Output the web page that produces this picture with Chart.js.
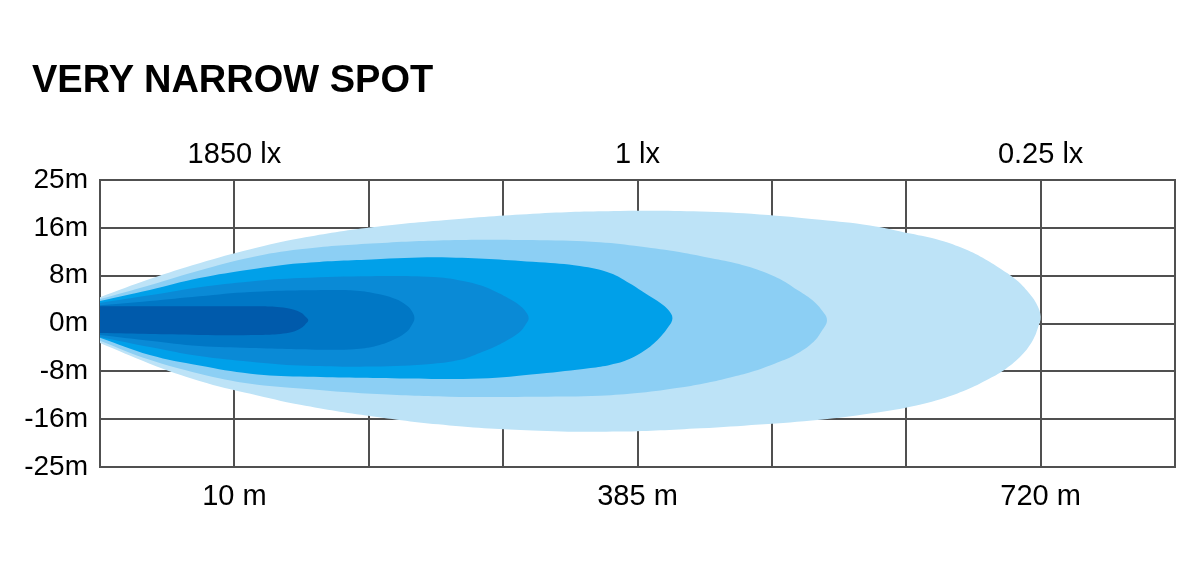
<!DOCTYPE html>
<html>
<head>
<meta charset="utf-8">
<script src="https://cdn.jsdelivr.net/npm/chart.js@4.4.1/dist/chart.umd.min.js"></script>
<style>
  html, body { margin:0; padding:0; background:#fff; }
  #wrap { position:relative; width:1200px; height:587px; }
  #title { position:absolute; left:32px; top:60px; font-family:"Liberation Sans", Arial, sans-serif; font-weight:bold; font-size:38px; line-height:38px; color:#000; }
  canvas { position:absolute; left:0; top:0; }
</style>
</head>
<body>
<div id="wrap">
  <canvas id="myChart" width="1200" height="587"></canvas>
  <div id="title">VERY NARROW SPOT</div>
</div>
<script>
// grid units: x 0..8 (one per column), y -3..3 (one per row)
var yLabels = ['-25m','-16m','-8m','0m','8m','16m','25m']
var bottomLabels = ['','10 m','','','385 m','','','720 m','']
var topLabels = ['','1850 lx','','','1 lx','','','0.25 lx','']

// beam lobes, outer (0.25 lx) to inner, traced round: top edge left->right, bottom edge back
var lobe1X = [0,0.37,0.74,1.12,1.49,2.02,2.60,3.27,3.87,4.47,4.91,5.36,5.73,6.03,6.25,6.44,6.59,6.71,6.82,6.91,6.97,7.00,6.98,6.94,6.86,6.74,6.62,6.47,6.29,6.03,5.73,5.36,4.91,4.47,3.87,3.27,2.60,2.02,1.49,1.12,0.74,0.37,0]
var lobe1Y = [0.55,0.93,1.26,1.55,1.78,2.01,2.17,2.30,2.35,2.34,2.28,2.17,2.05,1.88,1.74,1.55,1.34,1.13,0.91,0.65,0.41,0.14,-0.09,-0.36,-0.66,-0.95,-1.15,-1.36,-1.55,-1.74,-1.88,-2.01,-2.11,-2.19,-2.26,-2.24,-2.13,-1.94,-1.70,-1.47,-1.20,-0.84,-0.41]

var lobe2X = [0,0.37,0.74,1.12,1.49,2.02,2.60,3.27,3.72,4.02,4.32,4.52,4.73,4.91,5.06,5.19,5.30,5.37,5.41,5.37,5.30,5.17,5.02,4.85,4.69,4.52,4.32,4.02,3.72,3.27,2.60,2.02,1.49,1.12,0.74,0.37,0]
var lobe2Y = [0.51,0.80,1.11,1.38,1.55,1.67,1.74,1.74,1.70,1.61,1.49,1.38,1.26,1.11,0.93,0.70,0.49,0.28,0.07,-0.16,-0.41,-0.66,-0.84,-1.01,-1.13,-1.24,-1.34,-1.45,-1.51,-1.53,-1.53,-1.47,-1.36,-1.26,-1.05,-0.76,-0.36]

var lobe3X = [0,0.37,0.74,1.12,1.49,2.02,2.60,3.27,3.57,3.80,3.94,4.08,4.17,4.23,4.26,4.23,4.17,4.08,3.94,3.80,3.65,3.27,2.83,2.23,1.49,1.12,0.74,0.37,0]
var lobe3Y = [0.47,0.70,0.95,1.13,1.26,1.34,1.38,1.28,1.20,1.05,0.84,0.59,0.43,0.28,0.11,-0.07,-0.28,-0.51,-0.74,-0.86,-0.93,-1.05,-1.15,-1.15,-1.11,-1.05,-0.88,-0.66,-0.30]

var lobe4X = [0,0.37,0.74,1.12,1.49,2.02,2.48,2.68,2.83,2.95,3.05,3.13,3.17,3.19,3.17,3.13,3.05,2.95,2.83,2.68,2.48,2.02,1.49,1.12,0.74,0.37,0]
var lobe4Y = [0.43,0.59,0.76,0.88,0.95,0.99,0.97,0.90,0.80,0.66,0.51,0.36,0.24,0.11,-0.01,-0.16,-0.32,-0.47,-0.61,-0.76,-0.84,-0.90,-0.88,-0.80,-0.68,-0.49,-0.28]

var lobe5X = [0,0.37,0.74,1.12,1.73,1.93,2.08,2.20,2.28,2.32,2.34,2.32,2.28,2.20,2.08,1.93,1.73,1.12,0.74,0.37,0]
var lobe5Y = [0.38,0.47,0.57,0.66,0.70,0.68,0.61,0.51,0.38,0.26,0.11,-0.03,-0.18,-0.32,-0.45,-0.53,-0.55,-0.51,-0.47,-0.36,-0.24]

var lobe6X = [0,0.74,1.19,1.34,1.43,1.50,1.53,1.55,1.53,1.50,1.43,1.34,1.19,0.74,0]
var lobe6Y = [0.36,0.36,0.36,0.34,0.30,0.22,0.14,0.07,-0.01,-0.09,-0.18,-0.22,-0.24,-0.24,-0.20]

var lobeColors = ['#bde3f7','#8ccff4','#00a0e9','#0a8ad6','#0077c5','#005aab']

function pts(xs, ys){
    var out=[]
    for(var i=0;i<xs.length;i++){
        out.push({x:xs[i], y:ys[i]})
    }
    return out
}

var lobes=[pts(lobe1X,lobe1Y),pts(lobe2X,lobe2Y),pts(lobe3X,lobe3Y),pts(lobe4X,lobe4Y),pts(lobe5X,lobe5Y),pts(lobe6X,lobe6Y)]
var datasets=[]
for(var i=0;i<lobes.length;i++){
    datasets.push({
        data:lobes[i],
        showLine:true,
        fill:'shape',
        backgroundColor:lobeColors[i],
        borderColor:lobeColors[i],
        borderWidth:0,
        pointRadius:0,
        tension:0.4,
        order:lobes.length-i
    })
}

var gridColor='#505050'
var tickFont={family:'"Liberation Sans", Arial, sans-serif', size:29}
var yFont={family:'"Liberation Sans", Arial, sans-serif', size:28}

var ctx=document.getElementById('myChart').getContext('2d')
var chart=new Chart(ctx,{
    type:'scatter',
    data:{datasets:datasets},
    options:{
        responsive:false,
        animation:false,
        events:[],
        layout:{padding:{left:0,right:25,top:0,bottom:0}},
        plugins:{legend:{display:false},tooltip:{enabled:false}},
        scales:{
            x:{
                type:'linear', position:'bottom', min:0, max:8,
                grid:{color:gridColor, lineWidth:2, drawTicks:false},
                border:{color:gridColor, width:2},
                ticks:{stepSize:1, autoSkip:false, maxRotation:0, padding:13, color:'#000', font:tickFont,
                    callback:function(v){ return bottomLabels[v] }},
                afterFit:function(s){ s.height=120 }
            },
            xTop:{
                type:'linear', position:'top', min:0, max:8,
                grid:{drawOnChartArea:false, drawTicks:false},
                border:{color:gridColor, width:2},
                ticks:{stepSize:1, autoSkip:false, maxRotation:0, padding:8, color:'#000', font:tickFont,
                    callback:function(v){ return topLabels[v] }},
                afterFit:function(s){ s.height=180 }
            },
            y:{
                type:'linear', min:-3, max:3,
                grid:{color:gridColor, lineWidth:2, drawTicks:false},
                border:{color:gridColor, width:2},
                ticks:{stepSize:1, padding:12, color:'#000', font:yFont,
                    callback:function(v){ return yLabels[v+3] }},
                afterFit:function(s){ s.width=100 }
            }
        }
    }
})
</script>
</body>
</html>
